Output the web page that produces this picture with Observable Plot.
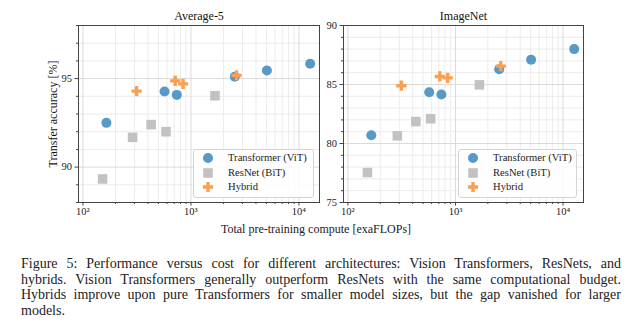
<!DOCTYPE html>
<html>
<head>
<meta charset="utf-8">
<script src="https://cdn.jsdelivr.net/npm/d3@7"></script>
<script src="https://cdn.jsdelivr.net/npm/@observablehq/plot@0.6"></script>
<style>
  html, body { margin: 0; padding: 0; background: #fff; }
  #root { position: relative; width: 641px; height: 326px; overflow: hidden; font-family: "Liberation Serif", serif; color: #222; }
  .panel { position: absolute; top: 0; }
  .legend { position: absolute; border: 1px solid #d4d4d4; border-radius: 3px; background: rgba(255,255,255,0.85); box-sizing: border-box; }
  .legend .row { position: absolute; left: 0; height: 14px; font-size: 10.6px; line-height: 14px; white-space: nowrap; }
  .legend svg { position: absolute; overflow: visible; }
  .xlabel { position: absolute; font-size: 12px; line-height: 14px; white-space: nowrap; transform: translateX(-50%); }
  .caption { position: absolute; left: 21px; width: 600px; font-size: 14px; line-height: 15.7px; }
  .caption div { text-align: justify; text-align-last: justify; }
  .caption div.last { text-align-last: left; }
</style>
</head>
<body>
<div id="root"></div>
<script>
// ---- data ----
const vitX = [165, 570, 740, 2550, 5050, 12700];
const resnetX = [152, 288, 428, 588, 1670];
const hybridX = [314, 715, 846, 2640];

const avg5Vit = [92.5, 94.27, 94.08, 95.11, 95.46, 95.84];
const avg5Resnet = [89.33, 91.68, 92.4, 92.0, 94.03];
const avg5Hybrid = [94.29, 94.87, 94.7, 95.18];

const inVit = [80.7, 84.35, 84.15, 86.3, 87.1, 88.0];
const inResnet = [77.54, 80.65, 81.86, 82.1, 84.97];
const inHybrid = [84.9, 85.68, 85.56, 86.56];

const seriesNames = ["Transformer (ViT)", "ResNet (BiT)", "Hybrid"];
const panelTitles = ["Average-5", "ImageNet"];
const xMajor = [100, 1000, 10000];
const xMinor = [200, 300, 400, 500, 600, 700, 800, 900, 2000, 3000, 4000, 5000, 6000, 7000, 8000, 9000];
const avg5YMajor = [90, 95];
const avg5YMinor = [88, 89, 91, 92, 93, 94, 96, 97, 98];
const inYMajor = [75, 80, 85, 90];
const inYMinor = [76, 77, 78, 79, 81, 82, 83, 84, 86, 87, 88, 89];
const xLabel = "Total pre-training compute [exaFLOPs]";
const yLabel = "Transfer accuracy [%]";
const captionLines = [
  "Figure 5: Performance versus cost for different architectures: Vision Transformers, ResNets, and",
  "hybrids. Vision Transformers generally outperform ResNets with the same computational budget.",
  "Hybrids improve upon pure Transformers for smaller model sizes, but the gap vanished for larger",
  "models."
];

const colors = ["#5799c7", "#c2c2c2", "#fb9f50"];
const symbols = ["circle", "square", "cross"];
const radii = [5, 5.4, 4.3];

const sup = {"2": "\u00b2", "3": "\u00b3", "4": "\u2074"};
const fmtPow = d => "10" + sup[String(Math.round(Math.log10(d)))];

function rows(xs, ys) { return xs.map((x, i) => ({x, y: ys[i]})); }

function panel({title, vit, resnet, hybrid, yDomain, yMajor, yMinor, width, marginLeft, marginRight, withYLabel}) {
  const marks = [
    Plot.gridX(xMinor, {stroke: "#ececec", strokeOpacity: 1}),
    Plot.gridY(yMinor, {stroke: "#ececec", strokeOpacity: 1}),
    Plot.gridX(xMajor, {stroke: "#dadada", strokeOpacity: 1}),
    Plot.gridY(yMajor, {stroke: "#dadada", strokeOpacity: 1}),
    Plot.axisX(xMinor, {tickSize: 2, tickFormat: () => "", label: null, stroke: "#444"}),
    Plot.axisX(xMajor, {tickSize: 3.5, tickPadding: 2, tickFormat: fmtPow, label: null, stroke: "#444", fontSize: 10.5}),
    Plot.axisY(yMinor, {tickSize: 2, tickFormat: () => "", label: null, stroke: "#444"}),
    Plot.axisY(yMajor, {tickSize: 3.5, tickPadding: 3, label: null, stroke: "#444", fontSize: 10.5}),
    Plot.dot(rows(vitX, vit), {x: "x", y: "y", symbol: symbols[0], r: radii[0], fill: colors[0], stroke: null}),
    Plot.dot(rows(resnetX, resnet), {x: "x", y: "y", symbol: symbols[1], r: radii[1], fill: colors[1], stroke: null}),
    Plot.dot(rows(hybridX, hybrid), {x: "x", y: "y", symbol: symbols[2], r: radii[2], fill: colors[2], stroke: null}),
    Plot.frame({stroke: "#444", strokeWidth: 1}),
    Plot.text([title], {frameAnchor: "top", lineAnchor: "middle", dy: -9, fontSize: 12, fill: "#111"})
  ];
  if (withYLabel) {
    marks.push(Plot.text([yLabel], {frameAnchor: "left", textAnchor: "middle", lineAnchor: "middle", rotate: -90, dx: -25, fontSize: 12, fill: "#111"}));
  }
  return Plot.plot({
    width, height: 240,
    marginLeft, marginRight, marginTop: 25, marginBottom: 38,
    x: {type: "log", domain: [91, 15500]},
    y: {domain: yDomain},
    style: {fontFamily: "Liberation Serif", fontSize: "10.5px", color: "#222", background: "transparent", overflow: "visible"},
    marks
  });
}

const root = document.getElementById("root");

const left = panel({title: panelTitles[0], vit: avg5Vit, resnet: avg5Resnet, hybrid: avg5Hybrid,
  yDomain: [88, 98], yMajor: avg5YMajor, yMinor: avg5YMinor, width: 322, marginLeft: 78, marginRight: 3, withYLabel: true});
left.classList.add("panel"); left.style.left = "0px";
root.appendChild(left);

const right = panel({title: panelTitles[1], vit: inVit, resnet: inResnet, hybrid: inHybrid,
  yDomain: [75, 90], yMajor: inYMajor, yMinor: inYMinor, width: 319, marginLeft: 21, marginRight: 58, withYLabel: false});
right.classList.add("panel"); right.style.left = "322px";
root.appendChild(right);

function legend(left, top, width) {
  const box = document.createElement("div");
  box.className = "legend";
  Object.assign(box.style, {left: left + "px", top: top + "px", width: width + "px", height: "49px"});
  const rowY = [9, 23.5, 38];
  seriesNames.forEach((name, i) => {
    const svg = d3.create("svg").attr("width", 12).attr("height", 12)
      .style("left", (15 - 6 - 1) + "px").style("top", (rowY[i] - 6 - 1) + "px");
    const sym = {circle: d3.symbolCircle, square: d3.symbolSquare, cross: d3.symbolCross}[symbols[i]];
    svg.append("path").attr("transform", "translate(6,6)")
      .attr("d", d3.symbol(sym, Math.PI * radii[i] * radii[i])())
      .attr("fill", colors[i]);
    box.appendChild(svg.node());
    const row = document.createElement("div");
    row.className = "row";
    row.style.left = (35 - 1) + "px";
    row.style.top = (rowY[i] - 7 - 1) + "px";
    row.textContent = name;
    box.appendChild(row);
  });
  root.appendChild(box);
}
legend(193, 149, 121);
legend(458, 149, 119);

const xl = document.createElement("div");
xl.className = "xlabel";
xl.style.left = "316px"; xl.style.top = "222px";
xl.textContent = xLabel;
root.appendChild(xl);

const cap = document.createElement("div");
cap.className = "caption";
cap.style.top = "256px";
captionLines.forEach((t, i) => {
  const d = document.createElement("div");
  if (i === captionLines.length - 1) d.className = "last";
  d.textContent = t;
  cap.appendChild(d);
});
root.appendChild(cap);
</script>
</body>
</html>
